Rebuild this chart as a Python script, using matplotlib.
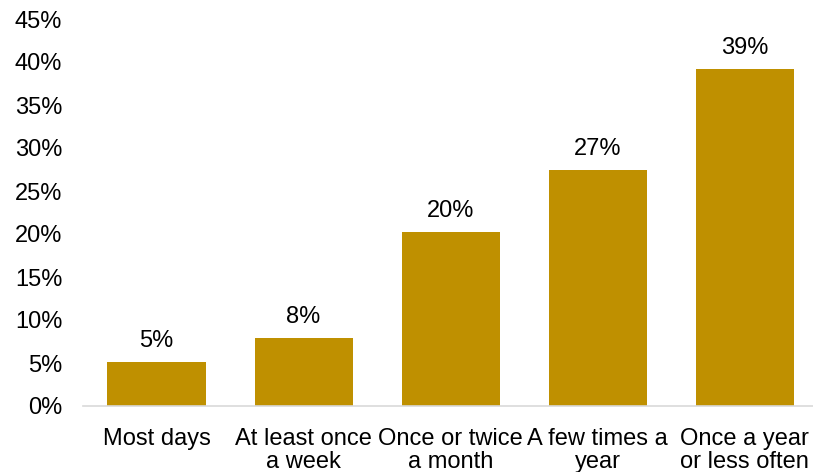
import matplotlib
matplotlib.use("Agg")
import matplotlib.pyplot as plt
from matplotlib.ticker import FuncFormatter

# Chart data
categories = ["Most days", "At least once\na week", "Once or twice\na month",
              "A few times a\nyear", "Once a year\nor less often"]
values = [5.1, 7.9, 20.2, 27.4, 39.2]
labels = ["5%", "8%", "20%", "27%", "39%"]

plt.rcParams['font.family'] = ['Liberation Sans', 'DejaVu Sans']

fig = plt.figure(figsize=(8.13, 4.72), dpi=100)
ax = fig.add_axes([83 / 813, 66 / 472, 730 / 813, 387 / 472])

x = range(len(categories))
ax.bar(x, values, width=0.667, color="#BF9000")

for xi, v, lab in zip(x, values, labels):
    ax.text(xi, v + 1.2, lab, ha="center", va="bottom", fontsize=17, color="black")

ax.set_ylim(0, 45)
ax.set_xlim(-0.5, 4.465)
ax.set_yticks(range(0, 46, 5))
ax.yaxis.set_major_formatter(FuncFormatter(lambda v, p: f"{int(v)}%"))
ax.set_xticks(list(x))
ax.set_xticklabels(categories, fontsize=17, linespacing=1.05)
ax.tick_params(axis="y", labelsize=17, length=0, pad=15)
ax.tick_params(axis="x", length=0, pad=16)

for s in ["top", "right", "left"]:
    ax.spines[s].set_visible(False)
ax.spines["bottom"].set_color("#D9D9D9")
ax.spines["bottom"].set_linewidth(1.2)

fig.savefig("out.png", dpi=100)
